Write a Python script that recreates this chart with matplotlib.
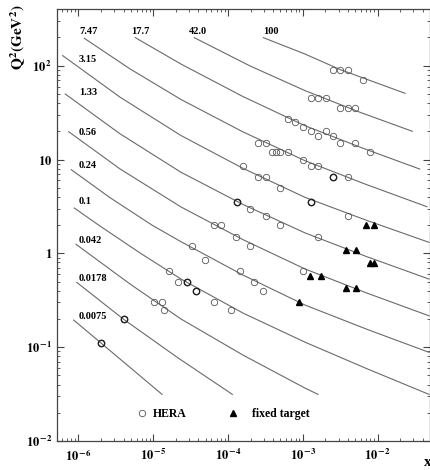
import numpy as np
import matplotlib
matplotlib.use("Agg")
import matplotlib.pyplot as plt

plt.rcParams['font.family'] = ['Liberation Serif', 'DejaVu Serif']
plt.rcParams['font.weight'] = 'bold'
plt.rcParams['mathtext.fontset'] = 'stix'

# lines of constant tau (x, Q^2)
tau_labels = ['100', '42.0', '17.7', '7.47', '3.15', '1.33', '0.56', '0.24', '0.1', '0.042', '0.0178', '0.0075']
curve_x = [
    [2.96e-4, 1.07e-3, 3.13e-3, 2.32e-2],
    [3.53e-5, 1.96e-4, 1.07e-3, 5.79e-3, 2.90e-2],
    [5.75e-6, 2.35e-5, 1.58e-4, 1.07e-3, 6.17e-3, 3.64e-2],
    [1.195e-6, 4.89e-6, 2.35e-5, 1.58e-4, 1.07e-3, 6.98e-3, 4.56e-2],
    [6.15e-7, 3.59e-6, 2.35e-5, 1.58e-4, 1.07e-3, 7.19e-3, 4.85e-2],
    [6.66e-7, 3.59e-6, 2.35e-5, 1.58e-4, 1.07e-3, 7.19e-3, 4.85e-2],
    [7.39e-7, 3.59e-6, 2.35e-5, 1.58e-4, 1.07e-3, 7.19e-3, 4.85e-2],
    [8.01e-7, 2.64e-6, 9.6e-6, 2.35e-5, 1.58e-4, 1.07e-3, 7.19e-3, 4.85e-2],
    [8.79e-7, 1.86e-6, 6.64e-6, 2.35e-5, 1.58e-4, 1.07e-3, 7.19e-3, 4.85e-2],
    [9.26e-7, 4.89e-6, 2.35e-5, 1.58e-4, 1.07e-3, 1.59e-3],
    [9.46e-7, 4.02e-6, 2.14e-5, 1.14e-4],
    [8.63e-7, 2.02e-6, 1.31e-5],
]
curve_q2 = [
    [199, 133, 91.1, 50.8],
    [199, 99.5, 54.2, 31.9, 20.0],
    [199, 104, 46.9, 22.9, 13.3, 7.92],
    [196, 92.4, 43.6, 19.7, 9.71, 5.43, 3.14],
    [128, 46.2, 18.0, 8.06, 3.95, 2.24, 1.31],
    [49.9, 18.8, 7.31, 3.32, 1.65, 0.920, 0.532],
    [19.8, 7.94, 3.12, 1.40, 0.681, 0.377, 0.216],
    [7.79, 3.92, 2.00, 1.33, 0.587, 0.281, 0.155, 0.0881],
    [3.04, 2.00, 1.01, 0.532, 0.231, 0.113, 0.0589, 0.0314],
    [1.25, 0.471, 0.1995, 0.0824, 0.0366, 0.0314],
    [0.491, 0.198, 0.0769, 0.0314],
    [0.1945, 0.110, 0.0314],
]

# HERA points
hera_x = [2.53e-3, 3.16e-3, 3.97e-3, 6.30e-3,
          1.28e-3, 1.61e-3, 2.02e-3,
          3.16e-3, 3.97e-3, 4.97e-3,
          6.27e-4, 7.91e-4, 1.0e-3, 1.28e-3, 1.61e-3, 2.02e-3, 2.53e-3, 3.16e-3, 4.97e-3, 7.96e-3,
          2.53e-4, 3.21e-4, 3.90e-4, 4.37e-4, 4.99e-4, 6.27e-4, 1.0e-3,
          1.28e-3, 1.61e-3,
          1.58e-4, 2.53e-4, 3.21e-4, 4.99e-4, 2.53e-3, 3.97e-3,
          1.30e-4, 1.98e-4, 3.21e-4, 4.99e-4, 1.28e-3, 3.97e-3,
          6.54e-5, 8.04e-5, 1.29e-4, 1.98e-4, 1.58e-3,
          3.26e-5, 4.96e-5, 1.43e-4, 2.20e-4, 2.93e-4, 1.0e-3,
          1.61e-5, 2.12e-5, 2.80e-5, 3.69e-5,
          6.54e-5, 1.09e-4,
          1.01e-5, 1.31e-5, 1.39e-5,
          4.02e-6, 2.0e-6]
hera_q2 = [90, 90, 90, 70,
           45, 45, 45,
           35, 35, 35,
           27, 25, 22, 20, 18, 20, 18, 15, 15, 12,
           15, 15, 12, 12, 12, 12, 10,
           8.5, 8.5,
           8.5, 6.5, 6.5, 5.0, 6.5, 6.5,
           3.5, 3.0, 2.5, 2.0, 3.5, 2.5,
           2.0, 2.0, 1.5, 1.2, 1.5,
           1.2, 0.85, 0.65, 0.5, 0.4, 0.65,
           0.65, 0.5, 0.5, 0.4,
           0.3, 0.25,
           0.3, 0.3, 0.25,
           0.2, 0.11]
# overlapping points drawn darker
hera_bold_x = [2.53e-3, 1.30e-4, 1.28e-3, 2.80e-5, 3.69e-5, 4.02e-6, 2.0e-6]
hera_bold_q2 = [6.5, 3.5, 3.5, 0.5, 0.4, 0.2, 0.11]

# fixed target points
ft_x = [6.92e-3, 8.93e-3, 3.73e-3, 5.13e-3, 7.89e-3, 8.93e-3, 1.24e-3, 1.75e-3, 3.73e-3, 5.13e-3, 8.87e-4]
ft_q2 = [2.0, 2.0, 1.08, 1.08, 0.79, 0.79, 0.57, 0.57, 0.43, 0.43, 0.30]

# label placement (axes fraction)
label_pos = [(0.553, 0.949), (0.354, 0.949), (0.200, 0.949), (0.059, 0.949),
             (0.059, 0.884), (0.059, 0.806), (0.059, 0.714), (0.059, 0.637),
             (0.059, 0.554), (0.059, 0.465), (0.059, 0.377), (0.059, 0.288)]

fig = plt.figure(figsize=(4.31, 4.70), dpi=100)
ax = fig.add_axes([0.1323, 0.0617, 0.8643, 0.9191])

line_col = '#6a6a6a'
for xs, qs in zip(curve_x, curve_q2):
    ax.plot(xs, qs, color=line_col, lw=0.8)

ax.plot(hera_x, hera_q2, 'o', ms=4.6, mfc='none', mec='#555555', mew=0.6)
ax.plot(hera_bold_x, hera_bold_q2, 'o', ms=4.6, mfc='none', mec='#222222', mew=1.0)
ax.plot(ft_x, ft_q2, '^', ms=4.2, color='black')

for lab, (tx, ty) in zip(tau_labels, label_pos):
    ax.text(tx, ty, lab, transform=ax.transAxes, fontsize=7.5, fontweight='bold',
            ha='left', va='center')

# legend
ax.plot([0.227], [0.064], 'o', ms=4.6, mfc='none', mec='#555555', mew=0.6, transform=ax.transAxes)
ax.text(0.258, 0.062, 'HERA', transform=ax.transAxes, fontsize=8.5, fontweight='bold', va='center')
ax.plot([0.473], [0.064], '^', ms=4.2, color='black', transform=ax.transAxes)
ax.text(0.523, 0.062, 'fixed target', transform=ax.transAxes, fontsize=8.5, fontweight='bold', va='center')

ax.set_xscale('log')
ax.set_yscale('log')
ax.set_xlim(10**-6.287, 10**-1.307)
ax.set_ylim(1e-2, 10**2.604)

ax.set_xticks([1e-6, 1e-5, 1e-4, 1e-3, 1e-2])
ax.set_xticklabels([r'$\mathbf{10}^{\,\mathbf{-6}}$', r'$\mathbf{10}^{\,\mathbf{-5}}$',
                    r'$\mathbf{10}^{\,\mathbf{-4}}$', r'$\mathbf{10}^{\,\mathbf{-3}}$',
                    r'$\mathbf{10}^{\,\mathbf{-2}}$'])
ax.set_yticks([1e-2, 1e-1, 1, 10, 100])
ax.set_yticklabels([r'$\mathbf{10}^{\,\mathbf{-2}}$', r'$\mathbf{10}^{\,\mathbf{-1}}$',
                    r'$\mathbf{1}$', r'$\mathbf{10}$', r'$\mathbf{10}^{\,\mathbf{2}}$'])
ax.xaxis.set_minor_locator(matplotlib.ticker.LogLocator(base=10, subs=np.arange(2, 10), numticks=20))
ax.yaxis.set_minor_locator(matplotlib.ticker.LogLocator(base=10, subs=np.arange(2, 10), numticks=20))
ax.xaxis.set_minor_formatter(matplotlib.ticker.NullFormatter())
ax.yaxis.set_minor_formatter(matplotlib.ticker.NullFormatter())
ax.tick_params(which='both', direction='in', top=True, right=True, labelsize=9, color='#444444')
ax.tick_params(which='major', length=5, width=0.8)
ax.tick_params(which='minor', length=2.5, width=0.6)
ax.tick_params(axis='x', pad=5)
for sp in ax.spines.values():
    sp.set_color('#444444')
    sp.set_linewidth(0.9)

fig.text(18 / 431, 1 - 37 / 470, r'$\mathbf{Q^2(GeV^2)}$', rotation=90, fontsize=11,
         ha='center', va='center')
fig.text(428 / 431, 1 - 463 / 470, 'x', fontsize=11, fontweight='bold', ha='center', va='center')

fig.savefig('out.png', dpi=100)
